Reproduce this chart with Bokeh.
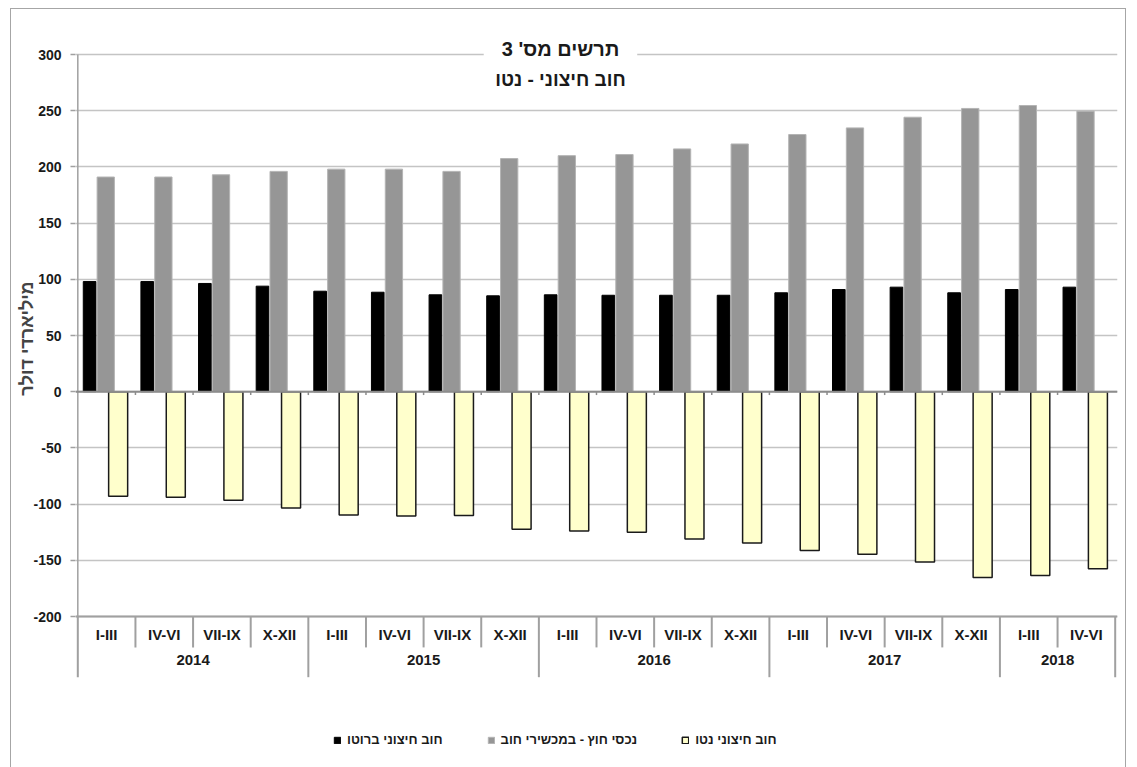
from bokeh.plotting import figure
from bokeh.models import (FactorRange, ColumnDataSource, Legend, LegendItem, Label,
                          Span, FixedTicker, Range1d)
from bokeh.transform import dodge
from bokeh.embed import file_html
from bokeh.resources import INLINE

# ---- data ----
years = ["2014"] * 4 + ["2015"] * 4 + ["2016"] * 4 + ["2017"] * 4 + ["2018"] * 2
quarters = ["I-III", "IV-VI", "VII-IX", "X-XII"] * 4 + ["I-III", "IV-VI"]
gross = [98, 98, 96.3, 93.9, 89.4, 88.5, 86.2, 85.3, 86.2, 85.8, 85.8, 85.8,
         88, 90.9, 93, 88, 90.9, 93]
assets = [191, 191, 193, 196, 198, 198, 196, 207.4, 210, 211, 216, 220.4,
          228.8, 234.7, 244.2, 252, 254.6, 249.6]
net = [-93, -94, -96.5, -103.4, -109.6, -110.5, -110.2, -122.4, -123.9, -125,
       -131, -134.5, -141.3, -144.6, -151.6, -165.3, -163.5, -157.5]
y_ticks = [-200, -150, -100, -50, 0, 50, 100, 150, 200, 250, 300]

title_1 = "תרשים מס' 3"
title_2 = "חוב חיצוני - נטו"
y_title = "מיליארדי דולר"
name_gross = "חוב חיצוני ברוטו"
name_assets = "נכסי חוץ - במכשירי חוב"
name_net = "חוב חיצוני נטו"

FONT = "Liberation Sans"
GRID = "#c4c4c4"
AXIS = "#a0a0a0"

factors = list(zip(years, quarters))
n = len(factors)
src = ColumnDataSource(dict(x=factors, gross=gross, assets=assets, net=net))

# scale: 1.124 px per unit; frame extends above 300 and below -200 so that the
# title, the two-level category separators and the legend can live inside it
y_lo, y_hi = min(y_ticks), max(y_ticks)
PX = 1.124
y_range = Range1d(y_lo - 150 / PX, y_hi + 24 / PX)

x_range = FactorRange(*factors, factor_padding=0, group_padding=0,
                      range_padding=0.04, range_padding_units="absolute")
p = figure(x_range=x_range, y_range=y_range, width=1116, height=760,
           output_backend="svg", toolbar_location=None,
           min_border_left=64, min_border_right=10, min_border_top=21,
           min_border_bottom=3)
p.styles = {"border": "1px solid #a6a6a6", "margin-left": "10px", "margin-top": "8px"}

p.xgrid.grid_line_color = None
p.ygrid.grid_line_color = GRID
p.ygrid.grid_line_width = 1.5
p.outline_line_color = None

r_gross = p.vbar(x=dodge("x", -0.295, range=p.x_range), top="gross", bottom=0,
                 width=0.22, source=src, fill_color="black", line_color="black")
r_assets = p.vbar(x=dodge("x", -0.015, range=p.x_range), top="assets", bottom=0,
                  width=0.30, source=src, fill_color="#969696", line_color="#b4b4b4")
r_net = p.vbar(x=dodge("x", 0.20, range=p.x_range), top=0, bottom="net",
               width=0.33, source=src, fill_color="#ffffcc", line_color="#1a1a1a",
               line_width=1.5)

# zero line with small category ticks
p.add_layout(Span(location=0, dimension="width", line_color="#8c8c8c", line_width=2))
inner = list(range(1, n))
p.segment(x0=inner, x1=inner, y0=[0] * len(inner), y1=[-3] * len(inner),
          line_color="#8c8c8c", line_width=1.5)

# y axis line (from -200 to 300)
p.segment(x0=[0], x1=[0], y0=[y_lo], y1=[y_hi], line_color=AXIS, line_width=1.5)

# separators of the two-level category axis
year_bounds = [0] + [i for i in range(1, n) if years[i] != years[i - 1]] + [n]
quarter_bounds = [i for i in range(1, n) if i not in year_bounds]
p.segment(x0=quarter_bounds, x1=quarter_bounds, y0=[y_lo] * len(quarter_bounds),
          y1=[y_lo - 27.5] * len(quarter_bounds), line_color=AXIS, line_width=2)
p.segment(x0=year_bounds, x1=year_bounds, y0=[y_lo] * len(year_bounds),
          y1=[y_lo - 54] * len(year_bounds), line_color=AXIS, line_width=2)

# axes
p.yaxis.ticker = FixedTicker(ticks=y_ticks)
p.yaxis.major_label_overrides = {t: str(t) for t in y_ticks}
# leading no-break spaces lift the title to the middle of the -200..300 span
p.yaxis.axis_label = "\u00a0" * 24 + y_title
p.yaxis.axis_label_text_font = FONT
p.yaxis.axis_label_text_font_style = "bold"
p.yaxis.axis_label_text_font_size = "18px"
p.yaxis.axis_label_standoff = -7
p.yaxis.major_label_text_font = FONT
p.yaxis.major_label_text_font_style = "bold"
p.yaxis.major_label_text_font_size = "14px"
p.yaxis.major_label_text_color = "#1a1a1a"
p.yaxis.major_label_standoff = 9
p.yaxis.axis_line_color = None
p.yaxis.major_tick_line_color = AXIS
p.yaxis.major_tick_line_width = 1.5
p.yaxis.major_tick_out = 5
p.yaxis.major_tick_in = 0
p.yaxis.minor_tick_line_color = None

p.xaxis.fixed_location = y_lo
p.xaxis.axis_line_color = AXIS
p.xaxis.axis_line_width = 2
p.xaxis.major_tick_line_color = None
p.xaxis.major_tick_out = 0
p.xaxis.major_tick_in = 0
p.xaxis.minor_tick_line_color = None
p.xaxis.major_label_standoff = 9
p.xaxis.major_label_text_font = FONT
p.xaxis.major_label_text_font_style = "bold"
p.xaxis.major_label_text_font_size = "15px"
p.xaxis.major_label_text_color = "#1a1a1a"
p.xaxis.group_text_font = FONT
p.xaxis.group_text_font_style = "bold"
p.xaxis.group_text_font_size = "15px"
p.xaxis.group_text_color = "#1a1a1a"
p.xaxis.separator_line_color = None

# title (white box hides the top grid line behind it)
p.add_layout(Label(x=8.375, y=(391.2 - 48.5) / PX, text=title_1, text_align="center",
                   text_baseline="middle", text_font=FONT, text_font_style="bold",
                   text_font_size="20px", text_color="#1a1a1a",
                   background_fill_color="white", padding=18))
p.add_layout(Label(x=8.375, y=(391.2 - 78.5) / PX, text=title_2, text_align="center",
                   text_baseline="middle", text_font=FONT, text_font_style="bold",
                   text_font_size="19px", text_color="#1a1a1a"))

legend = Legend(items=[LegendItem(label=name_gross, renderers=[r_gross]),
                       LegendItem(label=name_assets, renderers=[r_assets]),
                       LegendItem(label=name_net, renderers=[r_net])],
                orientation="horizontal", location=(258, 19),
                margin=0, padding=0, spacing=44, glyph_width=8, glyph_height=8,
                label_standoff=6, label_text_font=FONT, label_text_font_style="bold",
                label_text_font_size="13px", label_height=13,
                label_text_color="#1a1a1a",
                background_fill_alpha=0, border_line_color=None)
p.add_layout(legend, "center")

open("out.html", "w").write(file_html(p, INLINE))
